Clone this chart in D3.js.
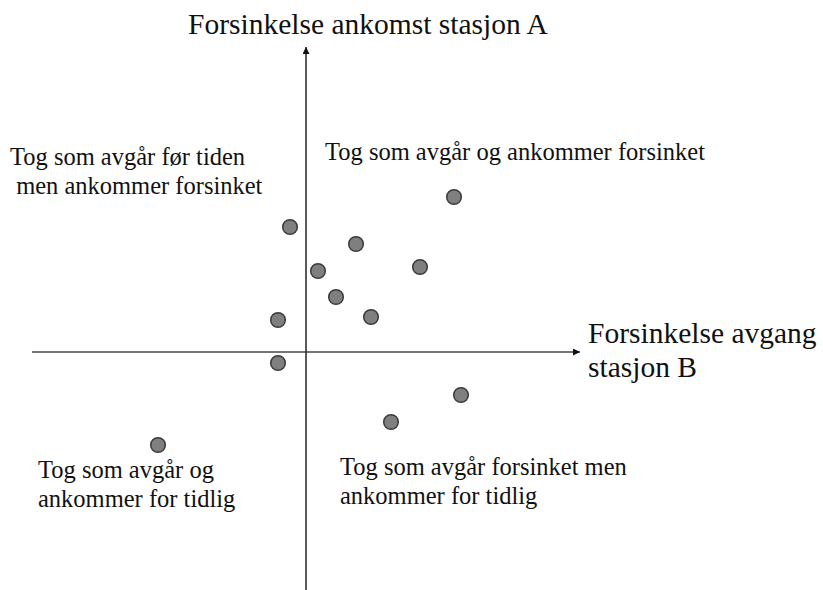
<!DOCTYPE html>
<html>
<head>
<meta charset="utf-8">
<script src="https://cdn.jsdelivr.net/npm/d3@7"></script>
<style>
  body { margin: 0; background: #fff; }
  text { font-family: "Liberation Serif", "Times New Roman", serif; fill: #111; }
</style>
</head>
<body>
<div id="chart"></div>
<script>
// Departure delay at B (x) vs arrival delay at A (y), arbitrary units
const delayB = [14.8, -1.6, 5.0, 1.2, 11.4, 3.0, -2.8, 6.5, -2.8, 15.5, 8.5, -14.8];
const delayA = [15.5, 12.5, 10.8, 8.1, 8.5, 5.5, 3.2, 3.5, -1.1, -4.3, -7.0, -9.3];

const yTitle = 'Forsinkelse ankomst stasjon A';
const xTitle = ['Forsinkelse avgang', 'stasjon B'];
const quadrantLabels = [
    { lines: ['Tog som avgår før tiden', ' men ankommer forsinket'], x: -29.6, y: 18.7 },
    { lines: ['Tog som avgår og ankommer forsinket'], x: 1.9, y: 19.2 },
    { lines: ['Tog som avgår og', 'ankommer for tidlig'], x: -26.8, y: -12.6 },
    { lines: ['Tog som avgår forsinket men', 'ankommer for tidlig'], x: 3.4, y: -12.3 }
];

const width = 823, height = 590;
const svg = d3.select('#chart')
    .append('svg')
    .attr('width', width)
    .attr('height', height);

// 10 px per unit, origin at (306, 352)
const x = d3.scaleLinear().domain([-27.4, 27.4]).range([32, 580]);
const y = d3.scaleLinear().domain([-23.8, 30.5]).range([590, 47]);

// arrow marker
svg.append('defs').append('marker')
    .attr('id', 'arrow')
    .attr('viewBox', '0 0 10 10')
    .attr('refX', 10)
    .attr('refY', 5)
    .attr('markerWidth', 8)
    .attr('markerHeight', 7)
    .attr('markerUnits', 'userSpaceOnUse')
    .attr('orient', 'auto')
    .append('path')
    .attr('d', 'M0,0 L10,5 L0,10 Z')
    .attr('fill', '#111');

// axes
svg.append('line')
    .attr('x1', x(-27.4)).attr('y1', y(0))
    .attr('x2', x(27.4)).attr('y2', y(0))
    .attr('stroke', '#444')
    .attr('stroke-width', 1.5)
    .attr('marker-end', 'url(#arrow)');

svg.append('line')
    .attr('x1', x(0)).attr('y1', y(-23.8))
    .attr('x2', x(0)).attr('y2', y(30.5))
    .attr('stroke', '#222')
    .attr('stroke-width', 1.5)
    .attr('marker-end', 'url(#arrow)');

// axis titles
svg.append('text')
    .attr('x', 188)
    .attr('y', 34)
    .attr('font-size', 29.5)
    .text(yTitle);

svg.append('text')
    .attr('x', 588)
    .attr('y', 343)
    .attr('font-size', 29.5)
    .selectAll('tspan')
    .data(xTitle)
    .enter()
    .append('tspan')
    .attr('x', 588)
    .attr('dy', (d, i) => i === 0 ? 0 : 34)
    .text(d => d);

// quadrant labels
quadrantLabels.forEach((q) => {
    svg.append('text')
        .attr('x', x(q.x))
        .attr('y', y(q.y))
        .attr('font-size', 24.5)
        .attr('xml:space', 'preserve')
        .selectAll('tspan')
        .data(q.lines)
        .enter()
        .append('tspan')
        .attr('x', x(q.x))
        .attr('dy', (d, i) => i === 0 ? 0 : 28.5)
        .text(d => d);
});

// points
const points = delayB.map((d, i) => ({ b: d, a: delayA[i] }));
svg.selectAll('circle')
    .data(points)
    .enter()
    .append('circle')
    .attr('cx', d => x(d.b))
    .attr('cy', d => y(d.a))
    .attr('r', 7.3)
    .attr('fill', '#7f7f7f')
    .attr('stroke', '#3a3a3a')
    .attr('stroke-width', 1.5);
</script>
</body>
</html>
